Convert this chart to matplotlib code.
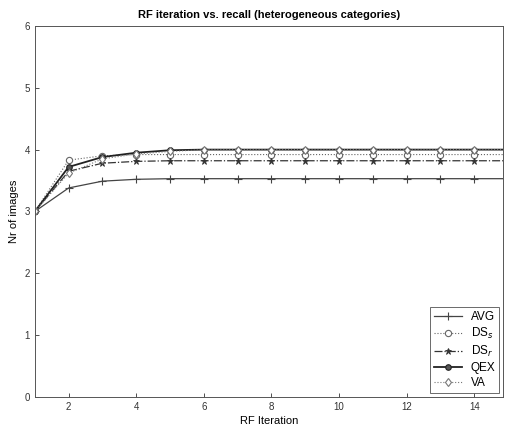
import matplotlib
matplotlib.use("Agg")
import matplotlib.pyplot as plt
import numpy as np

plt.rcParams['font.family'] = ['Liberation Sans', 'DejaVu Sans']

iterations = list(range(1, 16))
avg = [3.0, 3.38, 3.49, 3.52, 3.53, 3.53, 3.53, 3.53, 3.53, 3.53, 3.53, 3.53, 3.53, 3.53, 3.53]
ds_s = [3.0, 3.83, 3.90, 3.92, 3.92, 3.92, 3.92, 3.92, 3.92, 3.92, 3.92, 3.92, 3.92, 3.92, 3.92]
ds_r = [3.0, 3.65, 3.78, 3.81, 3.82, 3.82, 3.82, 3.82, 3.82, 3.82, 3.82, 3.82, 3.82, 3.82, 3.82]
qex = [3.0, 3.72, 3.88, 3.95, 3.99, 4.0, 4.0, 4.0, 4.0, 4.0, 4.0, 4.0, 4.0, 4.0, 4.0]
va = [3.0, 3.62, 3.85, 3.93, 3.97, 4.0, 4.0, 4.0, 4.0, 4.0, 4.0, 4.0, 4.0, 4.0, 4.0]

fig = plt.figure(figsize=(5.05, 4.32), dpi=100)
ax = fig.add_axes([0.069, 0.081, 0.927, 0.859])

ax.plot(iterations, avg, color='#444444', lw=0.9, marker='+', ms=6, mew=0.8, label='AVG')
ax.plot(iterations, ds_s, color='#666666', lw=0.8, ls=':', marker='o', ms=4.5, mfc='white', mew=0.8, label='DS$_s$')
ax.plot(iterations, ds_r, color='#333333', lw=0.9, ls='-.', marker='*', ms=5, mew=0.6, label='DS$_r$')
ax.plot(iterations, qex, color='#222222', lw=1.3, ls='-', marker='o', ms=4, mfc='#555555', mew=0.8, label='QEX')
ax.plot(iterations, va, color='#777777', lw=0.8, ls=':', marker='d', ms=4.5, mfc='white', mew=0.8, label='VA')

ax.set_xlim(1, 14.85)
ax.set_ylim(0, 6)
ax.set_xticks([2, 4, 6, 8, 10, 12, 14])
ax.set_yticks([0, 1, 2, 3, 4, 5, 6])
ax.tick_params(labelsize=7, direction='in', length=3, width=0.6, colors='#333333')
for s in ax.spines.values():
    s.set_linewidth(0.7)
    s.set_color('#555555')

ax.set_xlabel('RF Iteration', fontsize=8, labelpad=3)
ax.set_ylabel('Nr of images', fontsize=8, labelpad=4)
ax.set_title('RF iteration vs. recall (heterogeneous categories)', fontsize=8, fontweight='bold', pad=6)

leg = ax.legend(loc='lower right', fontsize=8.5, frameon=True, fancybox=False, handlelength=2.4,
                borderpad=0.35, labelspacing=0.25, handletextpad=0.7, borderaxespad=0.3)
leg.get_frame().set_edgecolor('#444444')
leg.get_frame().set_linewidth(0.7)

fig.savefig('out.png', dpi=100)
